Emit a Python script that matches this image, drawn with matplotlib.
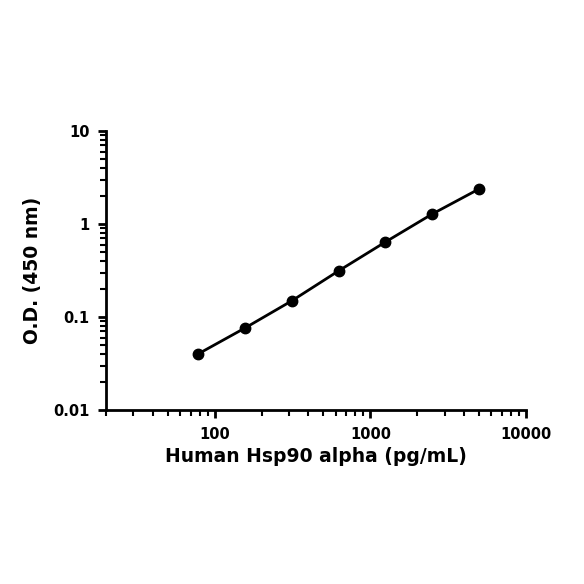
import matplotlib
matplotlib.use('Agg')
import matplotlib.pyplot as plt
from matplotlib.ticker import LogLocator, FixedLocator, NullFormatter

# standard curve
conc = [78.125, 156.25, 312.5, 625, 1250, 2500, 5000]
od = [0.040, 0.076, 0.149, 0.313, 0.64, 1.28, 2.38]

x_ticks = [100, 1000, 10000]
x_labels = ['100', '1000', '10000']
y_ticks = [0.01, 0.1, 1, 10]
y_labels = ['0.01', '0.1', '1', '10']

plt.rcParams['font.family'] = ['DejaVu Sans']
plt.rcParams['font.weight'] = 'bold'

fig = plt.figure(figsize=(5.84, 5.84), dpi=100)
ax = fig.add_axes([0.1815, 0.298, 0.719, 0.4777])

ax.plot(conc, od, color='black', linewidth=2, marker='o', markersize=7.5)

ax.set_xscale('log')
ax.set_yscale('log')
ax.set_xlim(20, 10000)
ax.set_ylim(0.01, 10)

ax.xaxis.set_major_locator(FixedLocator(x_ticks))
ax.set_xticklabels(x_labels)
ax.yaxis.set_major_locator(FixedLocator(y_ticks))
ax.set_yticklabels(y_labels)
ax.xaxis.set_minor_locator(LogLocator(base=10, subs=range(2, 10), numticks=20))
ax.yaxis.set_minor_locator(LogLocator(base=10, subs=range(2, 10), numticks=20))
ax.xaxis.set_minor_formatter(NullFormatter())
ax.yaxis.set_minor_formatter(NullFormatter())

for side in ['top', 'right']:
    ax.spines[side].set_visible(False)
for side in ['left', 'bottom']:
    ax.spines[side].set_linewidth(2)

ax.tick_params(which='major', direction='out', length=6, width=2, labelsize=10.5, pad=6)
ax.tick_params(which='minor', direction='out', length=4, width=1.5)

ax.set_xlabel('Human Hsp90 alpha (pg/mL)', fontsize=13.5, fontweight='bold', labelpad=4)
ax.set_ylabel('O.D. (450 nm)', fontsize=13.5, fontweight='bold', labelpad=8)

fig.savefig('out.png', dpi=100)
